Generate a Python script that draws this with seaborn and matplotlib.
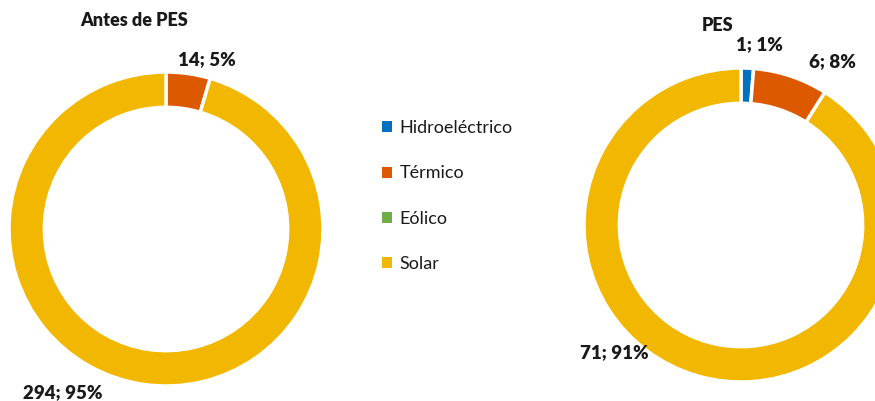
import matplotlib
matplotlib.use("Agg")
import matplotlib.pyplot as plt
from matplotlib.patches import Patch
import seaborn as sns

sns.set_theme(style="white")
plt.rcParams['font.family'] = ['Lato', 'DejaVu Sans']

sources = ['Hidroeléctrico', 'Térmico', 'Eólico', 'Solar']
colors = ['#0070C0', '#DD5900', '#70AD47', '#F2B700']

before_values = [0, 14, 0, 294]
before_pct = [0, 5, 0, 95]
pes_values = [1, 6, 0, 71]
pes_pct = [1, 8, 0, 91]

W, H = 875, 401
fig = plt.figure(figsize=(W / 100, H / 100), dpi=100)


def donut(cx, cy, r, values, title, title_xy, label_xy, pcts):
    ax = fig.add_axes([(cx - r) / W, (H - cy - r) / H, 2 * r / W, 2 * r / H])
    keep = [i for i, v in enumerate(values) if v > 0]
    ax.pie([values[i] for i in keep], colors=[colors[i] for i in keep],
           startangle=90, counterclock=False, radius=1,
           wedgeprops=dict(width=0.225, edgecolor='white', linewidth=2.5))
    ax.set_xlim(-1, 1)
    ax.set_ylim(-1, 1)
    ax.axis('off')
    ax.text(*title_xy, title, ha='center', va='center', fontsize=13,
            fontweight='heavy', color='#1a1a1a', clip_on=False)
    for i, xy in zip(keep, label_xy):
        ax.text(*xy, f"{values[i]}; {pcts[i]}%", ha='center', va='center',
                fontsize=13.5, fontweight='heavy', color='#1a1a1a', clip_on=False)
    return ax


donut(166, 229, 157, before_values, 'Antes de PES', (-0.2, 1.33),
      [(0.26, 1.08), (-0.66, -1.045)], before_pct)
donut(741, 225, 157, pes_values, 'PES', (-0.15, 1.27),
      [(0.12, 1.146), (0.58, 1.04), (-0.81, -0.81)], pes_pct)

handles = [Patch(facecolor=c, edgecolor='none') for c in colors]
fig.legend(handles, sources, loc='upper left', bbox_to_anchor=(366 / W, 1 - 104 / H),
           frameon=False, fontsize=13, handlelength=0.55, handleheight=0.55,
           handletextpad=0.4, labelspacing=1.62, labelcolor='#1a1a1a')

fig.savefig('out.png', dpi=100, facecolor='white')
